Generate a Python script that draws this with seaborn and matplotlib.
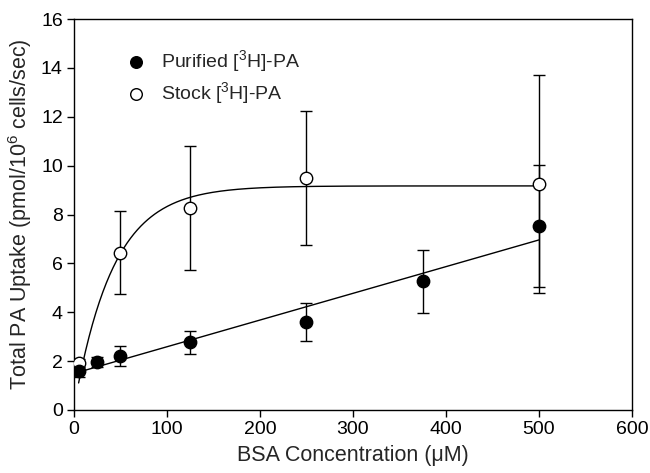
import numpy as np
import pandas as pd
import matplotlib
matplotlib.use("Agg")
import matplotlib.pyplot as plt
import seaborn as sns

# Data
bsa_conc = [5, 25, 50, 125, 250, 375, 500]
purified_mean = [1.60, 1.96, 2.22, 2.77, 3.60, 5.26, 7.53]
purified_err = [0.25, 0.22, 0.40, 0.48, 0.78, 1.29, 2.48]

stock_conc = [5, 50, 125, 250, 500]
stock_mean = [1.92, 6.44, 8.27, 9.49, 9.25]
stock_err = [0.18, 1.70, 2.55, 2.73, 4.47]

# Fit parameters (as drawn in the reference)
lin_intercept = 1.495
lin_slope = 0.01093
exp_plateau = 9.17
exp_amp = 9.08
exp_rate = 0.02376

sns.set_style("ticks")
plt.rcParams["font.family"] = ["Liberation Sans", "DejaVu Sans"]
plt.rcParams["mathtext.fontset"] = "custom"
plt.rcParams["mathtext.rm"] = "Liberation Sans"
plt.rcParams["mathtext.it"] = "Liberation Sans:italic"

fig = plt.figure(figsize=(6.5, 4.73), dpi=100)
ax = fig.add_axes([0.1138, 0.1332, 0.8585, 0.8266])

# fit curves
xf_lin = np.linspace(5, 500, 200)
xf_exp = np.linspace(5, 500, 400)
fit_df = pd.DataFrame({
    "x": np.concatenate([xf_lin, xf_exp]),
    "y": np.concatenate([lin_intercept + lin_slope * xf_lin,
                         exp_plateau - exp_amp * np.exp(-exp_rate * xf_exp)]),
    "fit": ["lin"] * len(xf_lin) + ["exp"] * len(xf_exp),
})
sns.lineplot(data=fit_df, x="x", y="y", units="fit", estimator=None,
             color="black", lw=1.0, ax=ax, legend=False, zorder=2)

# error bars
ax.errorbar(bsa_conc, purified_mean, yerr=purified_err, fmt="none",
            ecolor="black", elinewidth=1.0, capsize=4.5, capthick=1.0, zorder=3)
ax.errorbar(stock_conc, stock_mean, yerr=stock_err, fmt="none",
            ecolor="black", elinewidth=1.0, capsize=4.5, capthick=1.0, zorder=3)

pur_df = pd.DataFrame({"x": bsa_conc, "y": purified_mean})
stk_df = pd.DataFrame({"x": stock_conc, "y": stock_mean})
sns.scatterplot(data=pur_df, x="x", y="y", ax=ax, s=80, color="black",
                edgecolor="black", linewidth=1, zorder=5,
                label="Purified [$^3$H]-PA")
sns.scatterplot(data=stk_df, x="x", y="y", ax=ax, s=80, color="white",
                edgecolor="black", linewidth=1, zorder=4,
                label="Stock [$^3$H]-PA")

ax.set_xlim(0, 600)
ax.set_ylim(0, 16)
ax.set_xticks(np.arange(0, 601, 100))
ax.set_yticks(np.arange(0, 17, 2))
ax.tick_params(direction="out", length=5, width=1, labelsize=14,
               top=False, right=False, colors="black", pad=3)
for sp in ax.spines.values():
    sp.set_visible(True)
    sp.set_linewidth(1.0)
    sp.set_color("black")

ax.set_xlabel("BSA Concentration (\u03bcM)", fontsize=15.5, labelpad=5)
ax.set_ylabel("Total PA Uptake (pmol/10$^6$ cells/sec)", fontsize=15.5, labelpad=5)

leg = ax.legend(loc="upper left", bbox_to_anchor=(0.062, 0.945), frameon=False,
                fontsize=14, handletextpad=0.3, labelspacing=0.3,
                borderaxespad=0)
for h in leg.legend_handles:
    h.set_sizes([70])

fig.savefig("out.png", dpi=100)
